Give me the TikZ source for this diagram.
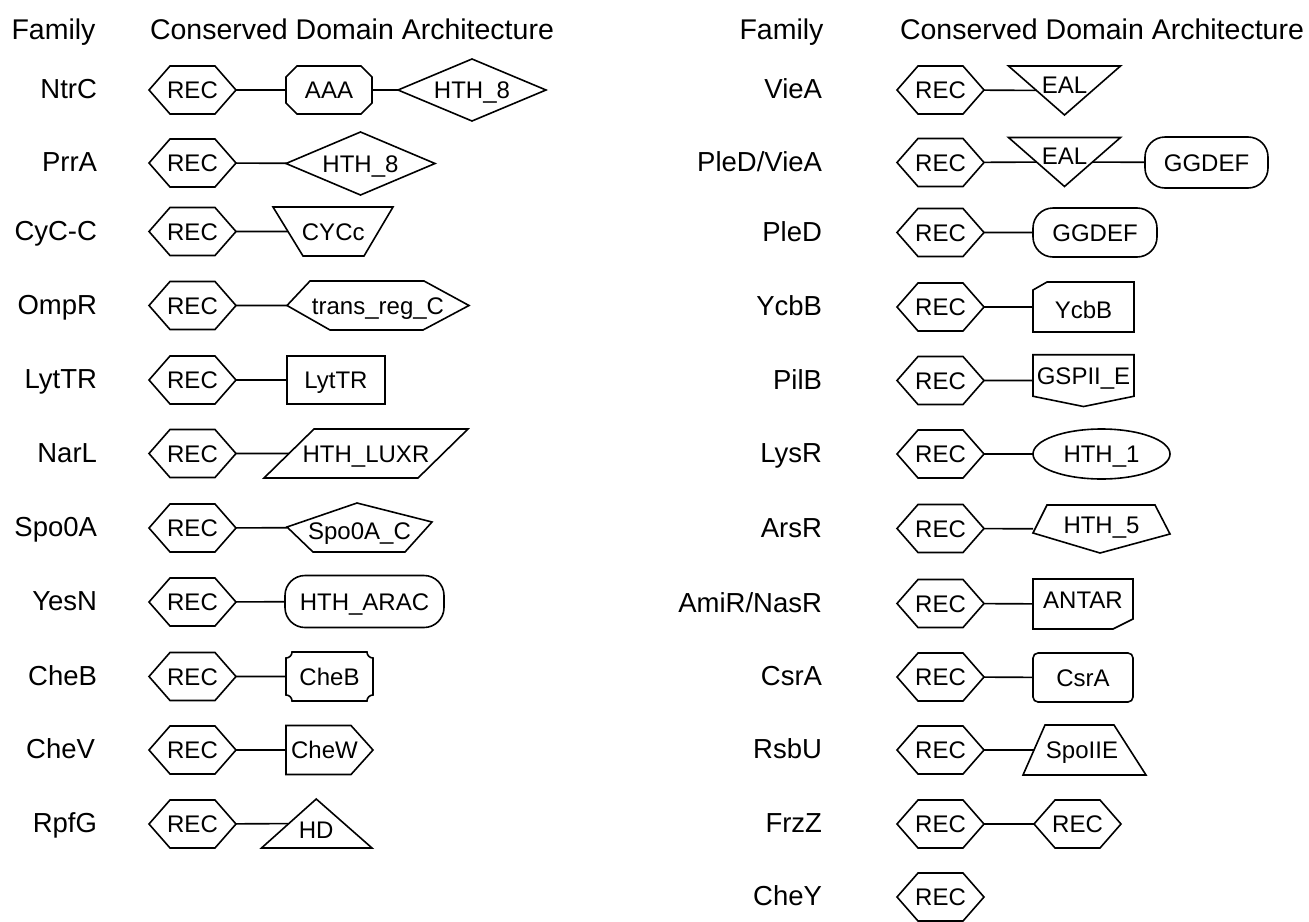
\documentclass[tikz,border=0pt]{standalone}
\usepackage{fontspec}
\setmainfont{Liberation Sans}
\usetikzlibrary{shapes.geometric,shapes.symbols,calc}

\tikzset{
  txt/.style={inner sep=0pt, outer sep=0pt, font=\fontsize{24}{28}\selectfont, text height=17.2pt, text depth=0pt},
  dom/.style={txt, draw, line width=1.6pt, line join=miter},
  rec/.style={dom, signal, signal to=west and east, signal pointer angle=97.6, inner xsep=-2.85pt, minimum height=48pt},
  rim/.style={line width=1.6pt, line join=miter},
  link/.style={line width=1.6pt},
  fam/.style={txt, anchor=east, font=\fontsize{27.5}{32}\selectfont, text height=19.7pt},
  head/.style={txt, font=\fontsize{28.5}{33}\selectfont, text height=20.4pt},
}

\begin{document}
\begin{tikzpicture}[x=1pt, y=-1pt]
\useasboundingbox (0,0) rectangle (1309,921);

% column headers
\node[head] (famL) at (53.5,29) {Family};
\node[head, anchor=west] (archL) at (150,29) {Conserved Domain Architecture};
\node[head] (famR) at (781.5,29) {Family};
\node[head, anchor=west] (archR) at (900,29) {Conserved Domain Architecture};

% left column: family names
\node[fam] (ntrc) at (97,89) {NtrC};
\node[fam] (prra) at (97,162) {PrrA};
\node[fam] (cycc) at (97,231) {CyC-C};
\node[fam] (ompr) at (97,304.5) {OmpR};
\node[fam] (lyttr) at (97,379) {LytTR};
\node[fam] (narl) at (97,452.5) {NarL};
\node[fam] (spoa) at (97,527) {Spo0A};
\node[fam] (yesn) at (97,601) {YesN};
\node[fam] (cheb) at (97,675.5) {CheB};
\node[fam] (chev) at (95,749) {CheV};
\node[fam] (rpfg) at (97,823) {RpfG};

% NtrC
\node[rec] (ntrcR) at (192.5,90) {REC};
\node[txt, minimum width=86pt, minimum height=48pt] (ntrcA) at (329,90) {AAA};
\draw[rim] ($(ntrcA.north west)+(11,0)$) -- ($(ntrcA.north east)+(-11,0)$) -- ($(ntrcA.north east)+(0,11)$) -- ($(ntrcA.south east)+(0,-11)$) -- ($(ntrcA.south east)+(-11,0)$) -- ($(ntrcA.south west)+(11,0)$) -- ($(ntrcA.south west)+(0,-11)$) -- ($(ntrcA.north west)+(0,11)$) -- cycle;
\node[dom, diamond, aspect=2.39, minimum width=148pt, minimum height=62pt] (ntrcB) at (472,90) {HTH\_8};
\draw[link] (ntrcR) -- (ntrcA);
\draw[link] (ntrcA) -- (ntrcB);

% PrrA
\node[rec] (prraR) at (192.5,163) {REC};
\node[dom, diamond, aspect=2.37, minimum width=149pt, minimum height=63pt] (prraD) at (360.5,163.5) {HTH\_8};
\draw[link] (prraR) -- (prraD);

% CyC-C
\node[rec] (cyccR) at (192.5,231.5) {REC};
\node[txt, minimum width=90.5pt, minimum height=49pt] (cyccD) at (333.25,231.5) {CYCc};
\draw[rim] ($(cyccD.north west)+(-15,0)$) -- ($(cyccD.north east)+(14.5,0)$) -- ($(cyccD.south east)+(-14.5,0)$) -- ($(cyccD.south west)+(15,0)$) -- cycle;
\draw[link] (cyccR) -- (cyccD);

% OmpR
\node[rec] (omprR) at (192.5,305.5) {REC};
\node[txt, minimum width=182pt, minimum height=49pt] (omprD) at (378,305.5) {trans\_reg\_C};
\draw[rim] (omprD.west) -- ($(omprD.north west)+(23,0)$) -- ($(omprD.north east)+(-45,0)$) -- (omprD.east) -- ($(omprD.south east)+(-46,0)$) -- ($(omprD.south west)+(43,0)$) -- cycle;
\draw[link] (omprR) -- (omprD);

% LytTR
\node[rec] (lyttrR) at (192.5,380) {REC};
\node[dom, minimum width=98pt, minimum height=48pt] (lyttrD) at (336,380) {LytTR};
\draw[link] (lyttrR) -- (lyttrD);

% NarL
\node[rec] (narlR) at (192.5,453.5) {REC};
\node[txt, minimum width=154pt, minimum height=49pt] (narlD) at (366,453.5) {HTH\_LUXR};
\draw[rim] ($(narlD.north west)+(25,0)$) -- ($(narlD.north east)+(25,0)$) -- ($(narlD.south east)+(-25,0)$) -- ($(narlD.south west)+(-25,0)$) -- cycle;
\draw[link] (narlR) -- (narlD);

% Spo0A
\node[rec] (spoaR) at (192.5,528) {REC};
\node[txt, minimum width=145pt, minimum height=49pt, text height=23.2pt] (spoaD) at (359.5,527.5) {Spo0A\_C};
\draw[rim] ($(spoaD.north west)+(70,0)$) -- ($(spoaD.north east)+(0,19)$) -- ($(spoaD.south east)+(-27,0)$) -- ($(spoaD.south west)+(26,0)$) -- ($(spoaD.north west)+(0,24)$) -- cycle;
\draw[link] (spoaR) -- (spoaD);

% YesN
\node[rec] (yesnR) at (192.5,602) {REC};
\node[dom, rounded corners=20pt, minimum width=159pt, minimum height=52pt] (yesnD) at (364.5,601.5) {HTH\_ARAC};
\draw[link] (yesnR) -- (yesnD);

% CheB
\node[rec] (chebR) at (192.5,676.5) {REC};
\node[txt, minimum width=87pt, minimum height=49pt] (chebD) at (329.5,676.5) {CheB};
\draw[rim] ($(chebD.north west)+(6,0)$) -- ($(chebD.north east)+(-6,0)$) arc[start angle=180, end angle=90, radius=6] -- ($(chebD.south east)+(0,-6)$) arc[start angle=270, end angle=180, radius=6] -- ($(chebD.south west)+(6,0)$) arc[start angle=0, end angle=-90, radius=6] -- ($(chebD.north west)+(0,6)$) arc[start angle=90, end angle=0, radius=6] -- cycle;
\draw[link] (chebR) -- (chebD);

% CheV
\node[rec] (chevR) at (192.5,750) {REC};
\node[txt, minimum width=77pt, minimum height=49pt] (chevD) at (324.5,750) {CheW};
\draw[rim] (chevD.north west) -- ($(chevD.north east)+(-12,0)$) -- ($(chevD.east)+(10,0)$) -- ($(chevD.south east)+(-12,0)$) -- (chevD.south west) -- cycle;
\draw[link] (chevR) -- (chevD);

% RpfG
\node[rec] (rpfgR) at (192.5,824) {REC};
\node[txt, minimum width=55.5pt, minimum height=49pt, text height=29.2pt] (rpfgD) at (316.25,823.5) {HD};
\draw[rim] (rpfgD.north) -- ($(rpfgD.south east)+(28,0)$) -- ($(rpfgD.south west)+(-27,0)$) -- cycle;
\draw[link] (rpfgR) -- (rpfgD);

% right column: family names
\node[fam] (viea) at (822,89) {VieA};
\node[fam] (pledv) at (822,161.5) {PleD/VieA};
\node[fam] (pled) at (822,231.5) {PleD};
\node[fam] (ycbb) at (822,306) {YcbB};
\node[fam] (pilb) at (822,379.5) {PilB};
\node[fam] (lysr) at (822,453) {LysR};
\node[fam] (arsr) at (822,527.5) {ArsR};
\node[fam] (amir) at (822,602.5) {AmiR/NasR};
\node[fam] (csra) at (822,676) {CsrA};
\node[fam] (rsbu) at (822,749) {RsbU};
\node[fam] (frzz) at (822,823) {FrzZ};
\node[fam] (chey) at (822,896) {CheY};

% VieA
\node[rec] (vieaR) at (940.5,90) {REC};
\node[txt, minimum width=56pt, minimum height=49pt, text depth=12pt] (vieaD) at (1064.5,90.5) {EAL};
\draw[rim] ($(vieaD.north west)+(-28,0)$) -- ($(vieaD.north east)+(28,0)$) -- (vieaD.south) -- cycle;
\draw[link] (vieaR) -- (vieaD);

% PleD/VieA
\node[rec] (pledvR) at (940.5,162.5) {REC};
\node[txt, minimum width=56pt, minimum height=49pt, text depth=12pt] (pledvA) at (1064.5,162) {EAL};
\draw[rim] ($(pledvA.north west)+(-28,0)$) -- ($(pledvA.north east)+(28,0)$) -- (pledvA.south) -- cycle;
\node[dom, rounded corners=20pt, minimum width=123pt, minimum height=51pt] (pledvB) at (1206.5,162.5) {GGDEF};
\draw[link] (pledvR) -- (pledvA);
\draw[link] (pledvA) -- (pledvB);

% PleD
\node[rec] (pledR) at (940.5,232.5) {REC};
\node[dom, rounded corners=20pt, minimum width=124pt, minimum height=49pt] (pledD) at (1095,232.5) {GGDEF};
\draw[link] (pledR) -- (pledD);

% YcbB
\node[rec] (ycbbR) at (940.5,307) {REC};
\node[txt, minimum width=101pt, minimum height=50pt, text height=22.2pt] (ycbbD) at (1083.5,307) {YcbB};
\draw[rim] ($(ycbbD.north west)+(14,0)$) -- (ycbbD.north east) -- (ycbbD.south east) -- (ycbbD.south west) -- ($(ycbbD.north west)+(0,8)$) -- cycle;
\draw[link] (ycbbR) -- (ycbbD);

% PilB
\node[rec] (pilbR) at (940.5,380.5) {REC};
\node[dom, signal, signal to=south, signal pointer angle=157, minimum width=101pt, minimum height=51pt] (pilbD) at (1083.5,375.5) {GSPII\_E};
\draw[link] (pilbR) -- (pilbR -| pilbD.west);

% LysR
\node[rec] (lysrR) at (940.5,454) {REC};
\node[dom, ellipse, minimum width=137pt, minimum height=50pt] (lysrD) at (1101.5,454) {HTH\_1};
\draw[link] (lysrR) -- (lysrD);

% ArsR
\node[rec] (arsrR) at (940.5,528.5) {REC};
\node[txt, minimum width=137pt, minimum height=48pt, text depth=9pt] (arsrD) at (1101.5,529) {HTH\_5};
\draw[rim] ($(arsrD.north west)+(14,0)$) -- ($(arsrD.north east)+(-15,0)$) -- ($(arsrD.north east)+(0,29)$) -- ($(arsrD.south west)+(67,0)$) -- ($(arsrD.north west)+(0,28)$) -- cycle;
\draw[link] (arsrR) -- (arsrD);

% AmiR/NasR
\node[rec] (amirR) at (940.5,603.5) {REC};
\node[txt, minimum width=100pt, minimum height=50pt, text depth=8pt] (amirD) at (1083,604) {ANTAR};
\draw[rim] (amirD.north west) -- (amirD.north east) -- ($(amirD.south east)+(0,-10)$) -- ($(amirD.south east)+(-20,0)$) -- (amirD.south west) -- cycle;
\draw[link] (amirR) -- (amirD);

% CsrA
\node[rec] (csraR) at (940.5,677) {REC};
\node[dom, rounded corners=5pt, minimum width=100pt, minimum height=49pt] (csraD) at (1083,677.5) {CsrA};
\draw[link] (csraR) -- (csraD);

% RsbU
\node[rec] (rsbuR) at (940.5,750) {REC};
\node[txt, minimum width=96pt, minimum height=50pt] (rsbuD) at (1082,750) {SpoIIE};
\draw[rim] ($(rsbuD.north west)+(11,0)$) -- ($(rsbuD.north east)+(-16,0)$) -- ($(rsbuD.south east)+(16,0)$) -- ($(rsbuD.south west)+(-11,0)$) -- cycle;
\draw[link] (rsbuR) -- (rsbuD);

% FrzZ
\node[rec] (frzzR) at (940.5,824) {REC};
\node[rec] (frzzD) at (1077.5,824) {REC};
\draw[link] (frzzR) -- (frzzD);

% CheY
\node[rec] (cheyR) at (940.5,897) {REC};
\end{tikzpicture}
\end{document}
